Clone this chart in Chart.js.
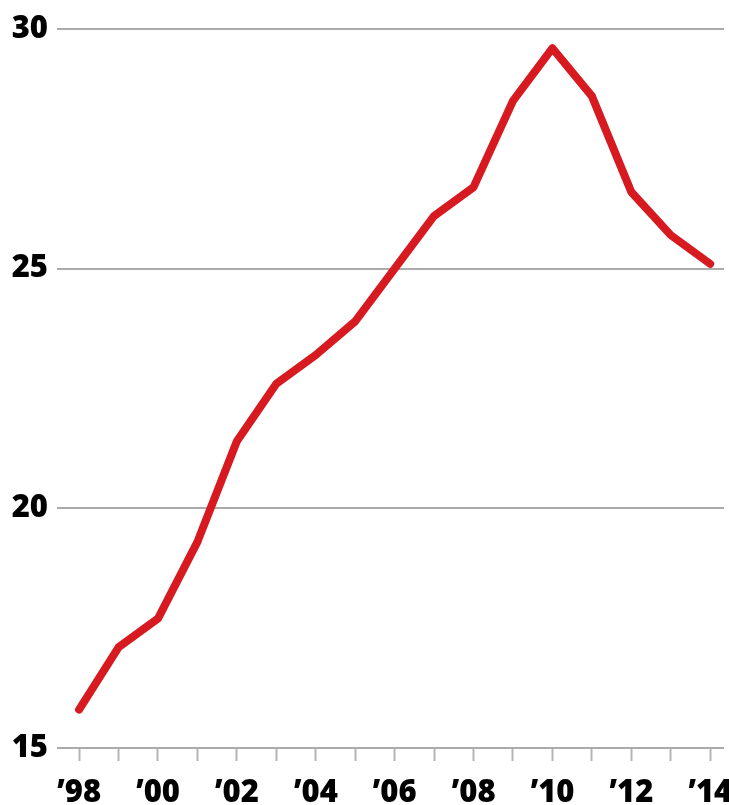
<!DOCTYPE html>
<html>
<head>
<meta charset="utf-8">
<script src="https://cdn.jsdelivr.net/npm/chart.js@4/dist/chart.umd.min.js"></script>
<style>
    html, body { margin: 0; padding: 0; background: #fff; }
    #wrap { width: 729px; height: 805px; }
</style>
</head>
<body>
<div id="wrap"><canvas id="lineChart" width="729" height="805"></canvas></div>
<script>
const years = [1998, 1999, 2000, 2001, 2002, 2003, 2004, 2005, 2006, 2007, 2008, 2009, 2010, 2011, 2012, 2013, 2014];
const values = [15.8, 17.1, 17.7, 19.3, 21.4, 22.6, 23.2, 23.9, 25.0, 26.1, 26.7, 28.5, 29.6, 28.6, 26.6, 25.7, 25.1];
const yTicks = [15, 20, 25, 30];

const tickFont = {family: "'Open Sans', sans-serif", size: 31, weight: 800};

function noPadding(scale) {
    scale.paddingLeft = 0;
    scale.paddingRight = 0;
    scale.paddingTop = 0;
    scale.paddingBottom = 0;
}

function setupChart() {
    const ctx = document.getElementById('lineChart');
    const points = years.map((y, i) => ({x: y, y: values[i]}));

    return new Chart(ctx, {
        type: 'line',
        data: {
            datasets: [{
                data: points,
                borderColor: '#d71920',
                borderWidth: 8,
                borderJoinStyle: 'round',
                borderCapStyle: 'round',
                pointRadius: 0,
                tension: 0
            }]
        },
        options: {
            responsive: false,
            animation: false,
            layout: {padding: {top: 29, left: 0, right: 5, bottom: 0}},
            plugins: {
                legend: {display: false},
                tooltip: {enabled: false}
            },
            scales: {
                x: {
                    type: 'linear',
                    min: 1997.44,
                    max: 2014.35,
                    afterBuildTicks: (scale) => {
                        scale.ticks = years.map(v => ({value: v}));
                    },
                    afterFit: (scale) => {
                        scale.height = 57;
                        noPadding(scale);
                    },
                    border: {display: false},
                    grid: {
                        drawOnChartArea: false,
                        drawTicks: true,
                        tickLength: 13,
                        tickWidth: 2,
                        tickColor: '#b4b4b4'
                    },
                    ticks: {
                        autoSkip: false,
                        maxRotation: 0,
                        padding: 14,
                        color: '#000',
                        font: tickFont,
                        callback: (v) => v % 2 === 0 ? '\u2019' + String(v).slice(2) : ''
                    }
                },
                y: {
                    min: 15,
                    max: 30,
                    afterBuildTicks: (scale) => {
                        scale.ticks = yTicks.map(v => ({value: v}));
                    },
                    afterFit: (scale) => {
                        scale.width = 57;
                        noPadding(scale);
                    },
                    border: {display: false},
                    grid: {
                        drawTicks: false,
                        color: '#ababab',
                        lineWidth: 2
                    },
                    ticks: {
                        padding: 9,
                        color: '#000',
                        font: tickFont
                    }
                }
            }
        }
    });
}

setupChart();
</script>
</body>
</html>
